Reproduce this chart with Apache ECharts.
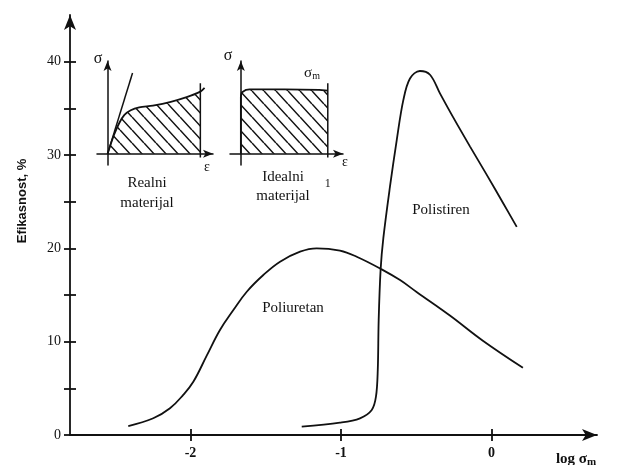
<!DOCTYPE html>
<html>
<head>
<meta charset="utf-8">
<script src="https://cdn.jsdelivr.net/npm/echarts@6/dist/echarts.min.js"></script>
<style>
  html, body { margin: 0; padding: 0; background: #fff; }
  #chart { width: 619px; height: 465px; }
</style>
</head>
<body>
<div id="chart"></div>
<script>
// glavni dijagram: efikasnost u zavisnosti od log sigma_m
const xTicks = [-2, -1, 0]
const yTicks = [0, 5, 10, 15, 20, 25, 30, 35, 40]
const yLabels = [0, 10, 20, 30, 40]

const poliuretanX = [-2.413, -2.247, -2.136, -2.048, -1.981, -1.892, -1.804, -1.715, -1.626, -1.516, -1.405, -1.272, -1.162, -1.007, -0.896, -0.73, -0.608, -0.496, -0.277, -0.058, 0.208]
const poliuretanY = [0.96, 1.79, 2.86, 4.3, 5.7, 8.5, 11.25, 13.39, 15.35, 17.14, 18.57, 19.64, 20.0, 19.75, 19.1, 17.75, 16.6, 15.3, 12.8, 10.1, 7.2]

const polistirenX = [-1.261, -1.007, -0.874, -0.796, -0.768, -0.756, -0.75, -0.737, -0.719, -0.675, -0.63, -0.586, -0.542, -0.476, -0.409, -0.343, -0.254, -0.143, -0.033, 0.078, 0.167]
const polistirenY = [0.89, 1.32, 1.79, 2.68, 4.1, 6.96, 12.3, 17.75, 21.1, 26.6, 31.6, 35.9, 38.2, 39.0, 38.6, 36.6, 34.0, 30.9, 27.9, 24.8, 22.3]

// umetnuti dijagrami (sigma - epsilon)
const realEps = [0, 0.06, 0.11, 0.16, 0.22, 0.3, 0.43, 0.6, 0.75, 0.88, 0.92]
const realSig = [0, 0.2, 0.33, 0.42, 0.47, 0.5, 0.52, 0.56, 0.61, 0.67, 0.71]
const realTangent = [[0, 0], [0.237, 0.87]]
const realLimit = 0.88

const idealEps = [0, 0, 0.01, 0.03, 0.06, 0.1, 0.5, 0.9, 1]
const idealSig = [0, 0.62, 0.66, 0.68, 0.69, 0.695, 0.695, 0.69, 0.68]
const idealLimit = 1

const limitTop = 0.76
const limitBottom = -0.04

const zip = (xs, ys) => xs.map((x, i) => [x, ys[i]])

const hatch = () => {
  const c = document.createElement('canvas')
  c.width = 12
  c.height = 13
  const g = c.getContext('2d')
  g.strokeStyle = '#111'
  g.lineWidth = 1.5
  g.beginPath()
  ;[-12, 0, 12].forEach(ox => {
    g.moveTo(ox, 0)
    g.lineTo(ox + 12, 13)
  })
  g.stroke()
  return c
}
const hatchFill = { image: hatch(), repeat: 'repeat' }

const ink = '#111'
const serif = 'Liberation Serif'
const lineOnly = { color: ink, width: 1.8 }

const insetX = (grid, min, max, extra) => Object.assign({
  type: 'value', gridIndex: grid, min: min, max: max,
  splitLine: { show: false }, axisTick: { show: false }, axisLabel: { show: false },
  axisLine: { onZero: true, symbol: ['none', 'arrow'], symbolSize: [6, 10], lineStyle: { color: ink, width: 1.5 } }
}, extra || {})
const insetY = (grid) => ({
  type: 'value', gridIndex: grid, min: -0.12, max: 1.0,
  splitLine: { show: false }, axisTick: { show: false }, axisLabel: { show: false },
  axisLine: { onZero: true, symbol: ['none', 'arrow'], symbolSize: [6, 10], lineStyle: { color: ink, width: 1.5 } }
})

const txt = (x, y, text, size, extra) => ({
  type: 'text', x: x, y: y,
  style: Object.assign({ text: text, font: size + 'px "' + serif + '"', fill: ink, align: 'center', verticalAlign: 'middle' }, extra || {})
})

const chart = echarts.init(document.getElementById('chart'))
chart.setOption({
  animation: false,
  grid: [
    { left: 70, top: 15, width: 527, height: 420 },
    { left: 97, top: 61, width: 116, height: 104 },
    { left: 230, top: 61, width: 113, height: 104 }
  ],
  xAxis: [
    {
      type: 'value', gridIndex: 0, min: -2.8, max: 0.7, position: 'bottom',
      splitLine: { show: false },
      axisLine: { onZero: false, symbol: ['none', 'arrow'], symbolSize: [9, 15], lineStyle: { color: ink, width: 1.8 } },
      axisTick: { customValues: xTicks, length: 6, lineStyle: { color: ink, width: 1.8 } },
      axisLabel: { customValues: xTicks, margin: 11, color: ink, fontFamily: serif, fontSize: 14, fontWeight: 'bold' }
    },
    {
      type: 'value', gridIndex: 0, min: -2.8, max: 0.7, position: 'bottom',
      splitLine: { show: false }, axisLine: { show: false, onZero: false }, axisLabel: { show: false },
      axisTick: { customValues: xTicks, inside: true, length: 6, lineStyle: { color: ink, width: 1.8 } }
    },
    insetX(1, -0.1, 1.0),
    insetX(2, -0.125, 1.175, {
      axisLabel: { show: true, customValues: [idealLimit], margin: 13, color: ink, fontFamily: serif, fontSize: 12, formatter: v => String(v) }
    })
  ],
  yAxis: [
    {
      type: 'value', gridIndex: 0, min: 0, max: 45, position: 'left',
      splitLine: { show: false },
      axisLine: { onZero: false, symbol: ['none', 'arrow'], symbolSize: [9, 15], lineStyle: { color: ink, width: 1.8 } },
      axisTick: { customValues: yTicks, length: 6, lineStyle: { color: ink, width: 1.8 } },
      axisLabel: { customValues: yLabels, margin: 9, color: ink, fontFamily: serif, fontSize: 14 }
    },
    {
      type: 'value', gridIndex: 0, min: 0, max: 45, position: 'left',
      splitLine: { show: false }, axisLine: { show: false, onZero: false }, axisLabel: { show: false },
      axisTick: { customValues: yTicks, inside: true, length: 6, lineStyle: { color: ink, width: 1.8 } }
    },
    insetY(1),
    insetY(2)
  ],
  series: [
    {
      name: 'Poliuretan', type: 'line', xAxisIndex: 0, yAxisIndex: 0,
      data: zip(poliuretanX, poliuretanY), smooth: 0.4,
      showSymbol: false, lineStyle: lineOnly
    },
    {
      name: 'Polistiren', type: 'line', xAxisIndex: 0, yAxisIndex: 0,
      data: zip(polistirenX, polistirenY), smooth: 0.35,
      showSymbol: false, lineStyle: lineOnly
    },
    // realni materijal
    {
      type: 'line', xAxisIndex: 2, yAxisIndex: 2,
      data: zip(realEps, realSig).filter(p => p[0] <= realLimit), smooth: 0.3,
      showSymbol: false, lineStyle: { width: 0 }, areaStyle: { color: hatchFill, opacity: 1 }
    },
    {
      type: 'line', xAxisIndex: 2, yAxisIndex: 2,
      data: zip(realEps, realSig), smooth: 0.3, showSymbol: false, lineStyle: lineOnly
    },
    {
      type: 'line', xAxisIndex: 2, yAxisIndex: 2,
      data: realTangent, showSymbol: false, lineStyle: { color: ink, width: 1.5 }
    },
    {
      type: 'line', xAxisIndex: 2, yAxisIndex: 2,
      data: [[realLimit, limitBottom], [realLimit, limitTop]], showSymbol: false, lineStyle: { color: ink, width: 1.5 }
    },
    // idealni materijal
    {
      type: 'line', xAxisIndex: 3, yAxisIndex: 3,
      data: zip(idealEps, idealSig), showSymbol: false,
      lineStyle: lineOnly, areaStyle: { color: hatchFill, opacity: 1 }
    },
    {
      type: 'line', xAxisIndex: 3, yAxisIndex: 3,
      data: [[idealLimit, limitBottom], [idealLimit, limitTop]], showSymbol: false, lineStyle: { color: ink, width: 1.5 }
    }
  ],
  graphic: [
    txt(293, 308, 'Poliuretan', 15),
    txt(441, 210, 'Polistiren', 15),
    txt(98, 59, 'σ', 16),
    txt(207, 167, 'ε', 14),
    txt(147, 183, 'Realni', 15),
    txt(147, 203, 'materijal', 15),
    txt(228, 56, 'σ', 16),
    txt(345, 162, 'ε', 14),
    txt(283, 177, 'Idealni', 15),
    txt(283, 196, 'materijal', 15),
    {
      type: 'text', x: 312, y: 73,
      style: {
        text: '{s|σ}{m|m}', align: 'center', verticalAlign: 'middle', fill: ink,
        rich: { s: { fontFamily: serif, fontSize: 15, color: ink }, m: { fontFamily: serif, fontSize: 10, color: ink, padding: [6, 0, 0, 0] } }
      }
    },
    {
      type: 'text', x: 576, y: 459,
      style: {
        text: '{s|log σ}{m|m}', align: 'center', verticalAlign: 'middle', fill: ink,
        rich: {
          s: { fontFamily: serif, fontSize: 15, fontWeight: 'bold', color: ink },
          m: { fontFamily: serif, fontSize: 11, fontWeight: 'bold', color: ink, padding: [7, 0, 0, 0] }
        }
      }
    },
    {
      type: 'text', x: 22, y: 201, rotation: Math.PI / 2,
      style: { text: 'Efikasnost, %', font: 'bold 13px "Liberation Sans"', fill: ink, align: 'center', verticalAlign: 'middle' }
    }
  ]
})
</script>
</body>
</html>
